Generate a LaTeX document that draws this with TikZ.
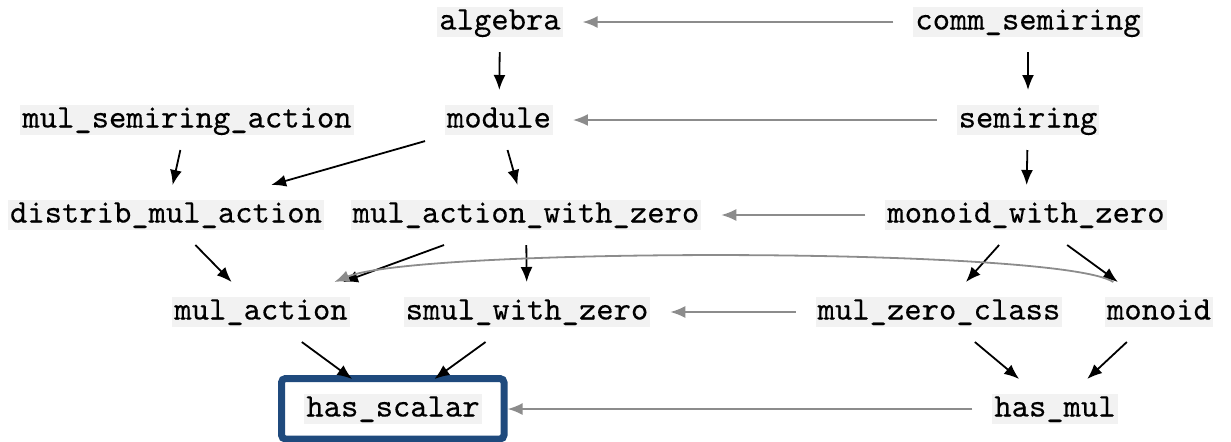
\documentclass[tikz,border=0pt]{standalone}
\usepackage{fontspec}
\newfontfamily\lbltt[FakeBold=0.3]{lmmono10-regular.otf}
\usetikzlibrary{arrows.meta}
\definecolor{arrowgray}{RGB}{140,140,140}
\definecolor{nodebg}{RGB}{242,242,242}
\definecolor{boxblue}{RGB}{31,74,125}
\begin{document}
\begin{tikzpicture}[x=0.5pt,y=-0.5pt,
  cls/.style={fill=nodebg, font=\fontsize{16.5}{19}\selectfont\lbltt,
    inner xsep=1pt, inner ysep=0.25pt, text height=11pt, text depth=3.5pt,
    outer xsep=10pt, outer ysep=7.5pt},
  sub/.style={-{Latex[length=7.5pt,width=6pt]}, line width=0.9pt, black},
  ext/.style={-{Latex[length=7.5pt,width=6pt]}, line width=0.9pt, arrowgray},
  hl/.style={draw=boxblue, line width=3.5pt, rounded corners=2pt}]
\useasboundingbox (0,0) rectangle (1231,441);
% nodes
\node[cls] (algebra) at (500,22) {algebra};
\node[cls] (commsemiring) at (1028,22) {comm\_semiring};
\node[cls] (mulsemiringaction) at (187,120) {mul\_semiring\_action};
\node[cls] (module) at (499,120) {module};
\node[cls] (semiring) at (1028,120) {semiring};
\node[cls] (distribmulaction) at (166,215) {distrib\_mul\_action};
\node[cls] (mulactionwithzero) at (526,215) {mul\_action\_with\_zero};
\node[cls] (monoidwithzero) at (1026,215) {monoid\_with\_zero};
\node[cls] (mulaction) at (261,312) {mul\_action};
\node[cls] (smulwithzero) at (527,312) {smul\_with\_zero};
\node[cls] (mulzeroclass) at (939,312) {mul\_zero\_class};
\node[cls] (monoid) at (1159,312) {monoid};
\node[cls, outer xsep=13pt] (hasscalar) at (393,409) {has\_scalar};
\node[cls] (hasmul) at (1055,409) {has\_mul};
% highlight box
\draw[hl] (281.5,378.5) rectangle (504,439);
% black arrows
\draw[sub] (algebra) -- (module);
\draw[sub] (commsemiring) -- (semiring);
\draw[sub] (semiring) -- (monoidwithzero);
\draw[sub] (mulsemiringaction) -- (distribmulaction);
\draw[sub] (module) -- (distribmulaction);
\draw[sub] (module) -- (mulactionwithzero);
\draw[sub] (distribmulaction) -- (mulaction);
\draw[sub] (mulactionwithzero) -- (mulaction);
\draw[sub] (mulactionwithzero) -- (smulwithzero);
\draw[sub] (monoidwithzero) -- (mulzeroclass);
\draw[sub] (monoidwithzero) -- (monoid);
\draw[sub] (mulaction) -- (hasscalar);
\draw[sub] (smulwithzero) -- (hasscalar);
\draw[sub] (mulzeroclass) -- (hasmul);
\draw[sub] (monoid) -- (hasmul);
% gray arrows
\draw[ext] (commsemiring) -- (algebra);
\draw[ext] (semiring) -- (module);
\draw[ext] (monoidwithzero) -- (mulactionwithzero);
\draw[ext] (mulzeroclass) -- (smulwithzero);
\draw[ext] (hasmul) -- (hasscalar);
\draw[ext] (monoid) .. controls (1060,247) and (420,247) .. (mulaction);
\end{tikzpicture}
\end{document}
